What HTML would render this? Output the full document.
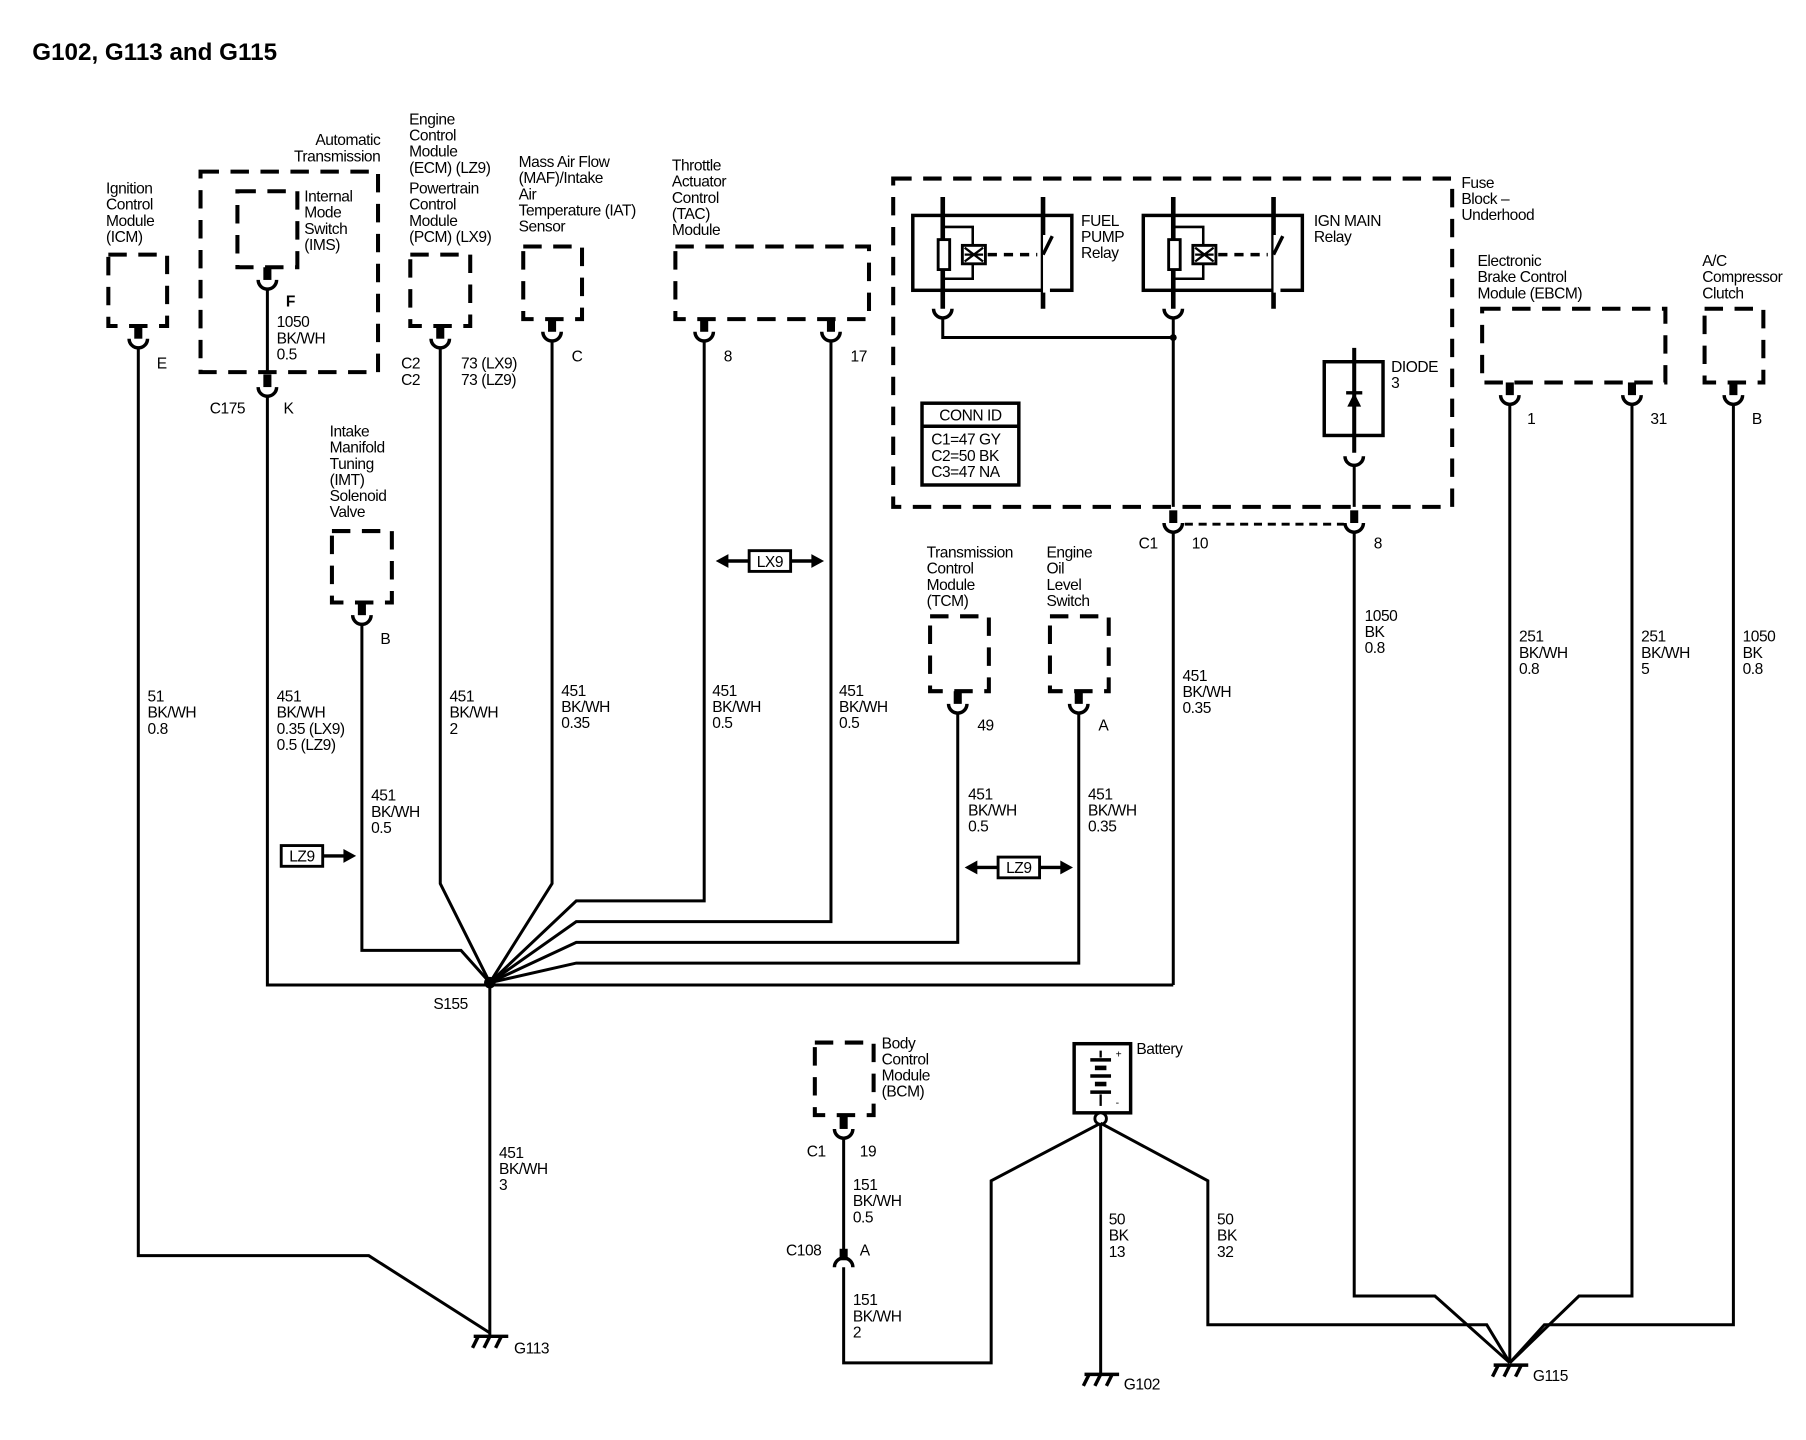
<!DOCTYPE html>
<html><head><meta charset="utf-8"><style>
html,body{margin:0;padding:0;background:#fff;}
svg{display:block;}
text{font-family:"Liberation Sans",sans-serif;font-size:13.5px;fill:#000;letter-spacing:-0.4px;}
.t{font-size:21px;font-weight:bold;letter-spacing:0;}
.w{stroke:#000;stroke-width:2.6;fill:none;}
.d{stroke:#000;stroke-width:3.5;fill:none;stroke-dasharray:16 10;}
.s{stroke:#000;stroke-width:3;fill:none;}
.st{fill:#000;}
</style></head><body>
<svg width="1806" height="1440" viewBox="0 0 1567 1250" preserveAspectRatio="none" xmlns="http://www.w3.org/2000/svg">
<defs>
<g id="cn"><rect x="-3.5" y="-15" width="7" height="11" class="st"/><path d="M-8 -4 A8 8 0 0 0 8 -4" class="s"/></g>
<g id="gnd"><line x1="-14" y1="0" x2="16" y2="0" class="s"/><line x1="-10" y1="0" x2="-15" y2="10" class="s"/><line x1="0" y1="0" x2="-5" y2="10" class="s"/><line x1="10" y1="0" x2="5" y2="10" class="s"/></g>
</defs>
<text x="28" y="52" class="t">G102, G113 and G115</text>

<!-- ICM -->
<text x="92" y="168">Ignition</text><text x="92" y="182">Control</text><text x="92" y="196">Module</text><text x="92" y="210">(ICM)</text>
<rect x="94" y="221" width="51" height="62" class="d"/>
<use href="#cn" x="120" y="298"/>
<text x="136" y="320">E</text>
<polyline points="120,302 120,1090 320,1090 425,1157" class="w"/>
<text x="128" y="609">51</text><text x="128" y="623">BK/WH</text><text x="128" y="637">0.8</text>

<!-- Automatic Transmission -->
<text x="330" y="126" text-anchor="end">Automatic</text><text x="330" y="140" text-anchor="end">Transmission</text>
<rect x="174" y="149" width="154" height="174" class="d"/>
<rect x="206" y="166" width="52" height="66" class="d"/>
<text x="264" y="175">Internal</text><text x="264" y="189">Mode</text><text x="264" y="203">Switch</text><text x="264" y="217">(IMS)</text>
<use href="#cn" x="232" y="247"/>
<text x="248" y="266" style="font-weight:bold">F</text>
<text x="240" y="284">1050</text><text x="240" y="298">BK/WH</text><text x="240" y="312">0.5</text>
<use href="#cn" x="232" y="340"/>
<text x="182" y="359">C175</text><text x="246" y="359">K</text>
<polyline points="232,251 232,323" class="w"/>
<polyline points="232,344 232,855 1018,855" class="w"/>
<text x="240" y="609">451</text><text x="240" y="623">BK/WH</text><text x="240" y="637">0.35 (LX9)</text><text x="240" y="651">0.5 (LZ9)</text>

<!-- ECM -->
<text x="355" y="108">Engine</text><text x="355" y="122">Control</text><text x="355" y="136">Module</text><text x="355" y="150">(ECM) (LZ9)</text>
<text x="355" y="168">Powertrain</text><text x="355" y="182">Control</text><text x="355" y="196">Module</text><text x="355" y="210">(PCM) (LX9)</text>
<rect x="356" y="221" width="52" height="62" class="d"/>
<use href="#cn" x="382" y="298"/>
<text x="348" y="320">C2</text><text x="348" y="334">C2</text>
<text x="400" y="320">73 (LX9)</text><text x="400" y="334">73 (LZ9)</text>
<polyline points="382,302 382,767 425,853" class="w"/>
<text x="390" y="609">451</text><text x="390" y="623">BK/WH</text><text x="390" y="637">2</text>

<!-- MAF -->
<text x="450" y="145">Mass Air Flow</text><text x="450" y="159">(MAF)/Intake</text><text x="450" y="173">Air</text><text x="450" y="187">Temperature (IAT)</text><text x="450" y="201">Sensor</text>
<rect x="454" y="214" width="51" height="63" class="d"/>
<use href="#cn" x="479" y="292"/>
<text x="496" y="314">C</text>
<polyline points="479,296 479,767 425,853" class="w"/>
<text x="487" y="604">451</text><text x="487" y="618">BK/WH</text><text x="487" y="632">0.35</text>

<!-- TAC -->
<text x="583" y="148">Throttle</text><text x="583" y="162">Actuator</text><text x="583" y="176">Control</text><text x="583" y="190">(TAC)</text><text x="583" y="204">Module</text>
<rect x="586" y="214" width="168" height="63" class="d"/>
<use href="#cn" x="611" y="292"/><use href="#cn" x="721" y="292"/>
<text x="628" y="314">8</text><text x="738" y="314">17</text>
<polyline points="611,296 611,782 500,782 425,853" class="w"/>
<polyline points="721,296 721,800 500,800 425,853" class="w"/>
<text x="618" y="604">451</text><text x="618" y="618">BK/WH</text><text x="618" y="632">0.5</text>
<text x="728" y="604">451</text><text x="728" y="618">BK/WH</text><text x="728" y="632">0.5</text>
<rect x="650" y="478" width="36" height="18" class="s" style="stroke-width:2.5"/>
<text x="668" y="492" text-anchor="middle">LX9</text>
<line x1="630" y1="487" x2="650" y2="487" class="s"/><polygon points="621,487 632,481 632,493" class="st"/>
<line x1="686" y1="487" x2="706" y2="487" class="s"/><polygon points="715,487 704,481 704,493" class="st"/>

<!-- IMT -->
<text x="286" y="379">Intake</text><text x="286" y="393">Manifold</text><text x="286" y="407">Tuning</text><text x="286" y="421">(IMT)</text><text x="286" y="435">Solenoid</text><text x="286" y="449">Valve</text>
<rect x="288" y="461" width="52" height="62" class="d"/>
<use href="#cn" x="314" y="538"/>
<text x="330" y="559">B</text>
<polyline points="314,542 314,825 400,825 425,853" class="w"/>
<text x="322" y="695">451</text><text x="322" y="709">BK/WH</text><text x="322" y="723">0.5</text>
<rect x="244" y="734" width="36" height="18" class="s" style="stroke-width:2.5"/>
<text x="262" y="748" text-anchor="middle">LZ9</text>
<line x1="280" y1="743" x2="300" y2="743" class="s"/><polygon points="309,743 298,737 298,749" class="st"/>

<circle cx="425" cy="853" r="5" class="st"/>
<text x="376" y="876">S155</text>
<line x1="425" y1="853" x2="425" y2="1160" class="w"/>
<text x="433" y="1005">451</text><text x="433" y="1019">BK/WH</text><text x="433" y="1033">3</text>
<use href="#gnd" x="425" y="1160"/>
<text x="446" y="1175">G113</text>

<!-- TCM -->
<text x="804" y="484">Transmission</text><text x="804" y="498">Control</text><text x="804" y="512">Module</text><text x="804" y="526">(TCM)</text>
<rect x="807" y="535" width="51" height="65" class="d"/>
<use href="#cn" x="831" y="615"/>
<text x="848" y="634">49</text>
<polyline points="831,619 831,818 500,818 425,853" class="w"/>
<text x="840" y="694">451</text><text x="840" y="708">BK/WH</text><text x="840" y="722">0.5</text>
<rect x="866" y="744" width="36" height="18" class="s" style="stroke-width:2.5"/>
<text x="884" y="758" text-anchor="middle">LZ9</text>
<line x1="846" y1="753" x2="866" y2="753" class="s"/><polygon points="837,753 848,747 848,759" class="st"/>
<line x1="902" y1="753" x2="922" y2="753" class="s"/><polygon points="931,753 920,747 920,759" class="st"/>

<text x="908" y="484">Engine</text><text x="908" y="498">Oil</text><text x="908" y="512">Level</text><text x="908" y="526">Switch</text>
<rect x="911" y="535" width="51" height="65" class="d"/>
<use href="#cn" x="936" y="615"/>
<text x="953" y="634">A</text>
<polyline points="936,619 936,836 500,836 425,853" class="w"/>
<text x="944" y="694">451</text><text x="944" y="708">BK/WH</text><text x="944" y="722">0.35</text>

<!-- Fuse block -->
<rect x="775" y="155" width="485" height="285" class="d"/>
<text x="1268" y="163">Fuse</text><text x="1268" y="177">Block –</text><text x="1268" y="191">Underhood</text>
<g id="relay">
<rect x="792" y="187" width="138" height="65" class="s"/>
<line x1="818" y1="171" x2="818" y2="268" class="s" style="stroke-width:4"/>
<line x1="905" y1="171" x2="905" y2="268" class="s" style="stroke-width:4"/>
<rect x="905" y="204" width="6" height="50" fill="#fff"/>
<line x1="905" y1="221" x2="913" y2="205" class="s"/>
<rect x="814" y="208" width="10" height="26" fill="#fff" stroke="#000" stroke-width="2.5"/>
<polyline points="818,197 844,197 844,242 818,242" class="s" style="stroke-width:2.2"/>
<rect x="835" y="213" width="20" height="16" fill="#fff" stroke="#000" stroke-width="2.5"/>
<path d="M837 215 L853 227 M853 215 L837 227 M837 221 L853 221" class="s" style="stroke-width:2"/>
<line x1="857" y1="221" x2="900" y2="221" class="s" style="stroke-dasharray:8 6"/>
</g>
<use href="#relay" x="200"/>
<text x="938" y="196">FUEL</text><text x="938" y="210">PUMP</text><text x="938" y="224">Relay</text>
<text x="1140" y="196">IGN MAIN</text><text x="1140" y="210">Relay</text>
<path d="M810 268 A8 8 0 0 0 826 268 M1010 268 A8 8 0 0 0 1026 268" class="s"/>
<polyline points="818,276 818,293 1018,293" class="w"/>
<circle cx="1018" cy="293" r="3" class="st"/>
<line x1="1018" y1="276" x2="1018" y2="440" class="w"/>
<rect x="800" y="350" width="84" height="71" class="s"/>
<line x1="800" y1="370" x2="884" y2="370" class="s"/>
<text x="842" y="365" text-anchor="middle">CONN ID</text>
<text x="808" y="386">C1=47 GY</text><text x="808" y="400">C2=50 BK</text><text x="808" y="414">C3=47 NA</text>
<rect x="1149" y="314" width="51" height="64" class="s"/>
<line x1="1175" y1="302" x2="1175" y2="393" class="s" style="stroke-width:3.5"/>
<polygon points="1175,341 1169,353 1181,353" class="st"/>
<line x1="1168" y1="341" x2="1182" y2="341" class="s"/>
<path d="M1167 396 A8 8 0 0 0 1183 396" class="s"/>
<line x1="1175" y1="404" x2="1175" y2="440" class="w"/>
<text x="1207" y="323">DIODE</text><text x="1207" y="337">3</text>
<use href="#cn" x="1018" y="458"/><use href="#cn" x="1175" y="458"/>
<line x1="1028" y1="455" x2="1166" y2="455" class="s" style="stroke-dasharray:7 5;stroke-width:2.5"/>
<text x="988" y="476">C1</text><text x="1034" y="476">10</text><text x="1192" y="476">8</text>
<line x1="1018" y1="462" x2="1018" y2="855" class="w"/>
<text x="1026" y="591">451</text><text x="1026" y="605">BK/WH</text><text x="1026" y="619">0.35</text>
<polyline points="1175,462 1175,1125 1245,1125 1310,1183" class="w"/>
<text x="1184" y="539">1050</text><text x="1184" y="553">BK</text><text x="1184" y="567">0.8</text>

<text x="1282" y="231">Electronic</text><text x="1282" y="245">Brake Control</text><text x="1282" y="259">Module (EBCM)</text>
<rect x="1286" y="268" width="159" height="64" class="d"/>
<use href="#cn" x="1310" y="347"/><use href="#cn" x="1416" y="347"/>
<text x="1325" y="368">1</text><text x="1432" y="368">31</text>
<line x1="1310" y1="351" x2="1310" y2="1183" class="w"/>
<polyline points="1416,351 1416,1125 1370,1125 1310,1183" class="w"/>
<text x="1318" y="557">251</text><text x="1318" y="571">BK/WH</text><text x="1318" y="585">0.8</text>
<text x="1424" y="557">251</text><text x="1424" y="571">BK/WH</text><text x="1424" y="585">5</text>
<text x="1477" y="231">A/C</text><text x="1477" y="245">Compressor</text><text x="1477" y="259">Clutch</text>
<rect x="1479" y="268" width="51" height="64" class="d"/>
<use href="#cn" x="1504" y="347"/>
<text x="1520" y="368">B</text>
<polyline points="1504,351 1504,1150 1340,1150 1310,1183" class="w"/>
<text x="1512" y="557">1050</text><text x="1512" y="571">BK</text><text x="1512" y="585">0.8</text>
<use href="#gnd" x="1310" y="1185"/>
<text x="1330" y="1199">G115</text>

<text x="765" y="910">Body</text><text x="765" y="924">Control</text><text x="765" y="938">Module</text><text x="765" y="952">(BCM)</text>
<rect x="707" y="905" width="51" height="63" class="d"/>
<use href="#cn" x="732" y="984"/>
<text x="700" y="1004">C1</text><text x="746" y="1004">19</text>
<line x1="732" y1="988" x2="732" y2="1086" class="w"/>
<text x="740" y="1033">151</text><text x="740" y="1047">BK/WH</text><text x="740" y="1061">0.5</text>
<rect x="728.5" y="1084" width="7" height="10" class="st"/>
<path d="M724 1100 A8 8 0 0 1 740 1100" class="s"/>
<text x="682" y="1090">C108</text><text x="746" y="1090">A</text>
<polyline points="732,1100 732,1183 860,1183 860,1025 955,975" class="w"/>
<text x="740" y="1133">151</text><text x="740" y="1147">BK/WH</text><text x="740" y="1161">2</text>

<rect x="932" y="906" width="49" height="60" class="s"/>
<text x="986" y="915">Battery</text>
<line x1="955" y1="912" x2="955" y2="918" class="s" style="stroke-width:2"/>
<line x1="946" y1="920" x2="964" y2="920" class="s"/>
<line x1="950" y1="927" x2="960" y2="927" class="s" style="stroke-width:4"/>
<line x1="946" y1="934" x2="964" y2="934" class="s"/>
<line x1="950" y1="941" x2="960" y2="941" class="s" style="stroke-width:4"/>
<line x1="946" y1="948" x2="964" y2="948" class="s"/>
<line x1="955" y1="950" x2="955" y2="960" class="s" style="stroke-width:2"/>
<text x="968" y="918" style="font-size:9px">+</text><text x="968" y="960" style="font-size:9px">-</text>
<circle cx="955" cy="971" r="5" fill="#fff" stroke="#000" stroke-width="2.5"/>
<line x1="955" y1="976" x2="955" y2="1193" class="w"/>
<polyline points="955,975 1048,1025 1048,1150 1290,1150 1310,1183" class="w"/>
<text x="962" y="1063">50</text><text x="962" y="1077">BK</text><text x="962" y="1091">13</text>
<text x="1056" y="1063">50</text><text x="1056" y="1077">BK</text><text x="1056" y="1091">32</text>
<use href="#gnd" x="955" y="1193"/>
<text x="975" y="1206">G102</text>
</svg>
</body></html>
